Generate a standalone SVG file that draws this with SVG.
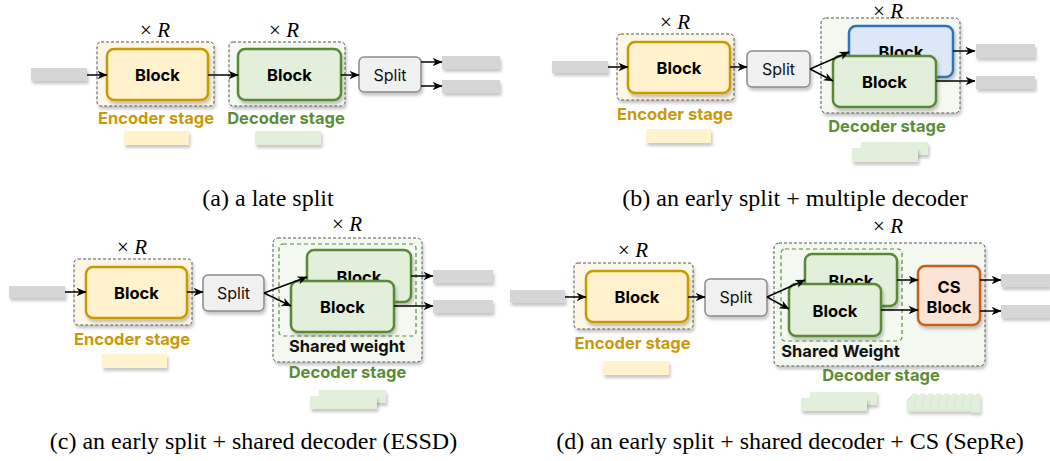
<svg xmlns="http://www.w3.org/2000/svg" width="1050" height="461" viewBox="0 0 1050 461">
<defs>
<filter id="sh" x="-20%" y="-20%" width="150%" height="170%">
<feDropShadow dx="1.5" dy="3" stdDeviation="1.8" flood-color="#000" flood-opacity="0.22"/>
</filter>
<marker id="ah" viewBox="0 0 10 10" refX="9.5" refY="5" markerWidth="10" markerHeight="10" markerUnits="userSpaceOnUse" orient="auto">
<path d="M0,0.8 L10,5 L0,9.2 L3,5 z" fill="#000"/>
</marker>
<style>
.gray{fill:#d6d6d6;filter:url(#sh)}
.encc{fill:#fcf6e6;stroke:#555;stroke-width:1;stroke-dasharray:3 2;filter:url(#sh)}
.decc{fill:#f3f8f0;stroke:#555;stroke-width:1;stroke-dasharray:3 2;filter:url(#sh)}
.inner{fill:none;stroke:#5b8c3a;stroke-width:1.2;stroke-dasharray:4 3}
.enc{fill:#fff2cc;stroke:#c99a06;stroke-width:2.5;filter:url(#sh)}
.dec{fill:#e2efda;stroke:#588a36;stroke-width:2.5;filter:url(#sh)}
.blue{fill:#dce8f7;stroke:#2f74b8;stroke-width:2.5;filter:url(#sh)}
.cs{fill:#fbe4d6;stroke:#c8601a;stroke-width:2.5;filter:url(#sh)}
.split{fill:#f0f0f0;stroke:#8a8a8a;stroke-width:1.5;filter:url(#sh)}
.py{fill:#fff2cc;filter:url(#sh)}
.pg{fill:#e2efda;filter:url(#sh)}
.pgs{fill:#e2efda;stroke:#d2e4c6;stroke-width:0.6}
.bt{font-family:Inter,"Noto Sans",sans-serif;font-weight:700;font-size:16.5px;fill:#000;text-anchor:middle}
.st{font-family:Inter,"Noto Sans",sans-serif;font-weight:400;font-size:16px;fill:#111;text-anchor:middle}
.et{font-family:Inter,"Noto Sans",sans-serif;font-weight:700;font-size:16.5px;fill:#c9990a;text-anchor:middle}
.dt{font-family:Inter,"Noto Sans",sans-serif;font-weight:700;font-size:16.5px;fill:#5b8c3a;text-anchor:middle}
.sw{font-family:Inter,"Noto Sans",sans-serif;font-weight:700;font-size:16.5px;fill:#111;text-anchor:middle}
.xr{font-family:"Liberation Serif",serif;font-size:21px;fill:#000;text-anchor:middle}
.cap{font-family:"Liberation Serif","Times New Roman",serif;font-size:24px;fill:#000;text-anchor:middle}
.ln{stroke:#000;stroke-width:1.5;fill:none;marker-end:url(#ah)}
</style>
</defs>
<rect width="1050" height="461" fill="#fff"/>

<!-- ===== Panel (a) ===== -->
<g id="a-input"><rect class="gray" x="31" y="68" width="56" height="13"/></g>
<g id="a-encoder-stage">
<rect class="encc" x="97" y="42" width="117" height="64" rx="4"/>
<text class="xr" x="155" y="36.5">× <tspan font-style="italic">R</tspan></text>
<rect class="enc" x="107" y="49" width="101" height="51" rx="7"/>
<text class="bt" x="157.5" y="81">Block</text>
<text class="et" x="156" y="123.5">Encoder stage</text>
<rect class="py" x="124" y="131" width="65" height="14"/>
</g>
<g id="a-decoder-stage">
<rect class="decc" x="229" y="42" width="116" height="64" rx="4"/>
<text class="xr" x="284" y="36.5">× <tspan font-style="italic">R</tspan></text>
<rect class="dec" x="238" y="49" width="103" height="51" rx="7"/>
<text class="bt" x="289.5" y="81">Block</text>
<text class="dt" x="286" y="123.5">Decoder stage</text>
<rect class="pg" x="255" y="131" width="66" height="14"/>
</g>
<g id="a-split">
<rect class="split" x="359" y="57" width="62" height="35" rx="5"/>
<text class="st" x="390" y="80.5">Split</text>
</g>
<g id="a-out1"><rect class="gray" x="442" y="56" width="58" height="13"/></g>
<g id="a-out2"><rect class="gray" x="442" y="80" width="58" height="13"/></g>
<text class="cap" x="268" y="206">(a) a late split</text>

<!-- ===== Panel (b) ===== -->
<g id="b-input"><rect class="gray" x="552" y="61" width="56" height="12"/></g>
<g id="b-encoder-stage">
<rect class="encc" x="617" y="34" width="117" height="66" rx="4"/>
<text class="xr" x="675" y="29">× <tspan font-style="italic">R</tspan></text>
<rect class="enc" x="628" y="42" width="102" height="51" rx="7"/>
<text class="bt" x="679" y="73.5">Block</text>
<text class="et" x="675" y="120">Encoder stage</text>
<rect class="py" x="646" y="129" width="65" height="14"/>
</g>
<g id="b-split">
<rect class="split" x="747" y="51" width="63" height="36" rx="5"/>
<text class="st" x="778.5" y="75">Split</text>
</g>
<g id="b-decoder-stage">
<rect class="decc" x="821" y="18" width="139" height="95" rx="5"/>
<text class="xr" x="888" y="17.5" font-size="19">× <tspan font-style="italic">R</tspan></text>
<rect class="blue" x="849" y="26" width="104" height="51" rx="7"/>
<text class="bt" x="901" y="57.5">Block</text>
<rect class="dec" x="833" y="56" width="103" height="51" rx="7"/>
<text class="bt" x="884.5" y="87.5">Block</text>
<text class="dt" x="887" y="131.5">Decoder stage</text>
<rect class="pg" x="861" y="142" width="67" height="13"/>
<rect class="pg" x="852" y="148" width="66" height="14"/>
</g>
<g id="b-out1"><rect class="gray" x="976" y="44" width="59" height="14"/></g>
<g id="b-out2"><rect class="gray" x="976" y="76" width="59" height="13"/></g>
<text class="cap" x="795" y="206">(b) an early split + multiple decoder</text>

<!-- ===== Panel (c) ===== -->
<g id="c-input"><rect class="gray" x="9" y="286" width="56" height="12"/></g>
<g id="c-encoder-stage">
<rect class="encc" x="74" y="259" width="118" height="66" rx="4"/>
<text class="xr" x="132" y="253.5">× <tspan font-style="italic">R</tspan></text>
<rect class="enc" x="86" y="267" width="101" height="51" rx="7"/>
<text class="bt" x="136.5" y="298.5">Block</text>
<text class="et" x="132" y="344.5">Encoder stage</text>
<rect class="py" x="102" y="354" width="65" height="14"/>
</g>
<g id="c-split">
<rect class="split" x="203" y="275" width="61" height="36" rx="5"/>
<text class="st" x="233.5" y="299">Split</text>
</g>
<g id="c-decoder-stage">
<rect class="decc" x="273" y="238" width="149" height="124" rx="5"/>
<text class="xr" x="347" y="231">× <tspan font-style="italic">R</tspan></text>
<rect class="inner" x="279" y="244" width="137" height="92" rx="4"/>
<rect class="dec" x="307" y="250" width="104" height="52" rx="7"/>
<text class="bt" x="359" y="282.5">Block</text>
<rect class="dec" x="291" y="281" width="103" height="51" rx="7"/>
<text class="bt" x="342.5" y="312.5">Block</text>
<text class="sw" x="347" y="351.5">Shared weight</text>
<text class="dt" x="347.5" y="378">Decoder stage</text>
<rect class="pg" x="319" y="390" width="67" height="13"/>
<rect class="pg" x="310" y="396" width="67" height="13"/>
</g>
<g id="c-out1"><rect class="gray" x="433" y="270" width="60" height="13"/></g>
<g id="c-out2"><rect class="gray" x="433" y="300" width="60" height="13"/></g>
<text class="cap" x="253.5" y="449">(c) an early split + shared decoder (ESSD)</text>

<!-- ===== Panel (d) ===== -->
<g id="d-input"><rect class="gray" x="510" y="290" width="55" height="13"/></g>
<g id="d-encoder-stage">
<rect class="encc" x="574" y="263" width="119" height="66" rx="4"/>
<text class="xr" x="633" y="257">× <tspan font-style="italic">R</tspan></text>
<rect class="enc" x="586" y="271" width="102" height="51" rx="7"/>
<text class="bt" x="637" y="303">Block</text>
<text class="et" x="632.5" y="348.5">Encoder stage</text>
<rect class="py" x="603" y="361" width="66" height="14"/>
</g>
<g id="d-split">
<rect class="split" x="705" y="279" width="62" height="37" rx="5"/>
<text class="st" x="736" y="303">Split</text>
</g>
<g id="d-decoder-stage">
<rect class="decc" x="774" y="243" width="211" height="123" rx="5"/>
<text class="xr" x="888" y="232.5">× <tspan font-style="italic">R</tspan></text>
<rect class="inner" x="781" y="249" width="121" height="92" rx="4"/>
<rect class="dec" x="805" y="254" width="92" height="52" rx="7"/>
<text class="bt" x="851" y="286.5">Block</text>
<rect class="dec" x="789" y="284" width="92" height="52" rx="7"/>
<text class="bt" x="835" y="316.5">Block</text>
<text class="sw" x="840.5" y="357">Shared Weight</text>
<text class="dt" x="881" y="381">Decoder stage</text>
<rect class="pg" x="810" y="392" width="67" height="13"/>
<rect class="pg" x="801" y="398" width="66" height="13"/>
<g id="d-stack" filter="url(#sh)">
<polygon class="pgs" points="907,400 913,394 917,394 917,411 907,411"/>
<polygon class="pgs" points="915,400 921,394 925,394 925,411 915,411"/>
<polygon class="pgs" points="923,400 929,394 933,394 933,411 923,411"/>
<polygon class="pgs" points="931,400 937,394 941,394 941,411 931,411"/>
<polygon class="pgs" points="939,400 945,394 949,394 949,411 939,411"/>
<polygon class="pgs" points="947,400 953,394 957,394 957,411 947,411"/>
<polygon class="pgs" points="955,400 961,394 965,394 965,411 955,411"/>
<polygon class="pgs" points="963,400 969,394 973,394 973,411 963,411"/>
<polygon class="pgs" points="971,400 977,394 980,394 980,412 971,412"/>
</g>
</g>
<g id="d-cs-block">
<rect class="cs" x="918" y="266" width="62" height="59" rx="7"/>
<text class="bt" x="949" y="292.5">CS</text>
<text class="bt" x="949" y="312.5">Block</text>
</g>
<g id="d-out1"><rect class="gray" x="1001" y="274" width="49" height="13"/></g>
<g id="d-out2"><rect class="gray" x="1001" y="305" width="49" height="13"/></g>
<text class="cap" x="790" y="449">(d) an early split + shared decoder + CS (SepRe)</text>

<!-- ===== Connectors ===== -->
<g id="connectors">
<line class="ln" x1="87" y1="75" x2="107" y2="75"/>
<line class="ln" x1="208" y1="75" x2="238" y2="75"/>
<line class="ln" x1="341" y1="75" x2="359" y2="75"/>
<line class="ln" x1="421" y1="62" x2="442" y2="62"/>
<line class="ln" x1="421" y1="86" x2="442" y2="86"/>

<line class="ln" x1="608" y1="67" x2="628" y2="67"/>
<line class="ln" x1="730" y1="67" x2="747" y2="67"/>
<line class="ln" x1="810" y1="69" x2="849" y2="52"/>
<line class="ln" x1="810" y1="69" x2="833" y2="81"/>
<line class="ln" x1="953" y1="51" x2="975" y2="51"/>
<line class="ln" x1="936" y1="81" x2="975" y2="81"/>

<line class="ln" x1="65" y1="292" x2="86" y2="292"/>
<line class="ln" x1="187" y1="292" x2="203" y2="292"/>
<line class="ln" x1="264" y1="293" x2="307" y2="277"/>
<line class="ln" x1="264" y1="293" x2="291" y2="306"/>
<line class="ln" x1="411" y1="276" x2="433" y2="276"/>
<line class="ln" x1="394" y1="306" x2="433" y2="306"/>

<line class="ln" x1="565" y1="297" x2="586" y2="297"/>
<line class="ln" x1="688" y1="297" x2="705" y2="297"/>
<line class="ln" x1="767" y1="297" x2="805" y2="280"/>
<line class="ln" x1="767" y1="297" x2="789" y2="309"/>
<line class="ln" x1="897" y1="280" x2="918" y2="280"/>
<line class="ln" x1="881" y1="310" x2="918" y2="310"/>
<line class="ln" x1="980" y1="280" x2="1001" y2="280"/>
<line class="ln" x1="980" y1="311" x2="1001" y2="311"/>
</g>
</svg>
